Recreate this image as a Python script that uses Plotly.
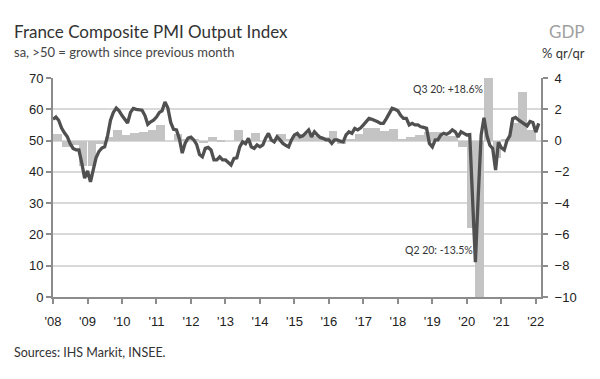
import pandas as pd
import plotly.graph_objects as go

# Monthly PMI, Jan 2008 .. Feb 2022
pmi = [
    56.8, 57.5, 56.5, 54.0, 52.5, 51.2, 49.0, 47.5, 47.0, 47.0, 42.8, 38.0,   # 2008
    40.3, 36.8, 40.5, 44.5, 46.5, 47.6, 48.0, 51.5, 56.5, 59.0, 60.4, 59.5,   # 2009
    58.0, 56.5, 55.6, 59.0, 60.3, 60.0, 59.8, 59.7, 58.0, 55.2, 56.0, 56.5,   # 2010
    57.5, 59.0, 59.5, 62.3, 60.5, 55.8, 53.6, 53.4, 50.5, 46.0, 49.2, 50.8,   # 2011
    51.1, 50.2, 48.8, 45.5, 44.8, 47.5, 47.8, 47.0, 43.8, 43.8, 44.8, 43.8,   # 2012
    43.8, 43.0, 42.2, 44.3, 44.5, 48.0, 49.6, 49.0, 50.7, 48.0, 47.5, 48.6,   # 2013
    48.0, 48.6, 50.7, 52.3, 50.2, 49.6, 51.2, 50.2, 49.1, 48.5, 48.0, 50.2,   # 2014
    51.8, 52.3, 51.2, 51.5, 52.3, 53.4, 51.2, 52.8, 51.8, 51.0, 50.7, 50.2,   # 2015
    50.2, 49.1, 50.2, 50.2, 49.8, 49.6, 51.8, 52.8, 52.3, 53.9, 53.4, 54.0,   # 2016
    55.0, 56.0, 57.1, 56.8, 56.5, 56.0, 55.5, 55.5, 57.0, 58.5, 60.3, 60.0,   # 2017
    59.5, 58.0, 57.1, 57.1, 55.0, 55.5, 55.0, 55.0, 54.4, 54.2, 53.9, 49.1,   # 2018
    48.0, 50.2, 50.2, 51.8, 52.3, 52.0, 52.5, 53.4, 52.8, 51.2, 52.8, 52.3,   # 2019
    51.8, 51.9, 28.9, 11.1, 32.1, 51.7, 57.3, 51.6, 48.5, 47.5, 40.6, 49.5,   # 2020
    47.7, 47.0, 50.0, 51.6, 57.0, 57.4, 56.6, 55.9, 55.3, 54.7, 56.1, 55.8,   # 2021
    52.7, 55.5,                                                               # 2022
]
months = pd.date_range("2008-01-01", periods=len(pmi), freq="MS")

# Quarterly GDP, % q/q, 2008Q1 .. 2021Q4
gdp = [
    0.4, -0.4, -0.3, -1.6,
    -1.6, -0.2, 0.2, 0.7,
    0.35, 0.5, 0.55, 0.65,
    1.0, 0.0, 0.4, 0.1,
    0.05, -0.15, 0.2, -0.1,
    0.0, 0.7, 0.0, 0.5,
    0.0, -0.05, 0.45, 0.1,
    0.4, 0.4, 0.3, 0.2,
    0.6, -0.2, 0.1, 0.4,
    0.8, 0.8, 0.6, 0.75,
    0.05, 0.25, 0.35, 0.55,
    0.55, 0.3, 0.3, -0.4,
    -5.6, -13.5, 18.6, -1.1,
    0.1, 1.1, 3.1, 0.7,
]
quarter_start = pd.date_range("2008-01-01", periods=len(gdp), freq="QS")
quarter_mid = quarter_start + pd.Timedelta(days=45)

year_ticks = pd.date_range("2008-01-01", "2022-01-01", freq="YS")
year_labels = ["'" + d.strftime("%y") for d in year_ticks]

GRID = "#d9d9d9"
AX = "#8c8c8c"
TXT = "#333333"
FONT = "Lato"
NUM = "Liberation Sans"

# page body has an 8px default margin; figure is sized to fill the rest
W, H = 592, 371
ML, MR, MT, MB = 45, 59, 70, 82
PW, PH = W - ML - MR, H - MT - MB

fig = go.Figure()
fig.add_trace(go.Bar(
    x=quarter_mid, y=gdp, width=91 * 86400000, marker_color="#c4c4c4",
    marker_line_width=0, yaxis="y", showlegend=False,
))
fig.add_trace(go.Scatter(
    x=months, y=pmi, mode="lines", line=dict(color="#505050", width=3.3),
    yaxis="y2", showlegend=False,
))

fig.update_layout(
    width=W, height=H,
    margin=dict(l=ML, r=MR, t=MT, b=MB),
    paper_bgcolor="white", plot_bgcolor="white",
    bargap=0,
    xaxis=dict(
        type="date", range=["2008-01-01", "2022-02-25"],
        tickvals=year_ticks, ticktext=year_labels,
        ticks="outside", ticklen=5, tickcolor=AX, tickwidth=1.5,
        showline=True, linecolor=AX, linewidth=2,
        showgrid=False, zeroline=False, ticklabelstandoff=6,
        tickfont=dict(family=NUM, size=13, color="#222"),
    ),
    yaxis=dict(
        side="right", range=[-10, 4], dtick=2,
        ticks="outside", ticklen=5, tickcolor=AX, tickwidth=1.5,
        showline=True, linecolor=AX, linewidth=2,
        showgrid=False, zeroline=False, ticklabelstandoff=4,
        tickfont=dict(family=NUM, size=13, color="#222"),
    ),
    yaxis2=dict(
        side="left", overlaying="y", range=[0, 70], dtick=10,
        ticks="outside", ticklen=5, tickcolor=AX, tickwidth=1.5,
        showline=True, linecolor=AX, linewidth=2,
        showgrid=True, gridcolor=GRID, gridwidth=1.5, zeroline=False,
        tickfont=dict(family=NUM, size=13, color="#222"),
    ),
    annotations=[
        dict(xref="paper", yref="paper", x=-41/PW, y=1 + 34/PH, xanchor="left", yanchor="bottom",
             text="France Composite PMI Output Index", showarrow=False,
             font=dict(family=FONT, size=17, color=TXT)),
        dict(xref="paper", yref="paper", x=-41/PW, y=1 + 16/PH, xanchor="left", yanchor="bottom",
             text="sa, >50 = growth since previous month", showarrow=False,
             font=dict(family=FONT, size=13, color="#444")),
        dict(xref="paper", yref="paper", x=1 + 46/PW, y=1 + 34/PH, xanchor="right", yanchor="bottom",
             text="GDP", showarrow=False,
             font=dict(family=FONT, size=17, color="#a0a0a0")),
        dict(xref="paper", yref="paper", x=1 + 46/PW, y=1 + 15/PH, xanchor="right", yanchor="bottom",
             text="% qr/qr", showarrow=False,
             font=dict(family=FONT, size=13, color=TXT)),
        dict(xref="paper", yref="paper", x=-41/PW, y=-46/PH, xanchor="left", yanchor="top",
             text="Sources: IHS Markit, INSEE.", showarrow=False,
             font=dict(family=FONT, size=12.5, color=TXT)),
        dict(xref="x", yref="y2", x="2020-07-10", y=66.5, xanchor="right", yanchor="middle",
             text="Q3 20: +18.6%", showarrow=False,
             font=dict(family=FONT, size=10.5, color=TXT)),
        dict(xref="x", yref="y2", x="2020-03-25", y=15, xanchor="right", yanchor="middle",
             text="Q2 20: -13.5%", showarrow=False,
             font=dict(family=FONT, size=10.5, color=TXT)),
    ],
)

fig.write_html("out.html")
